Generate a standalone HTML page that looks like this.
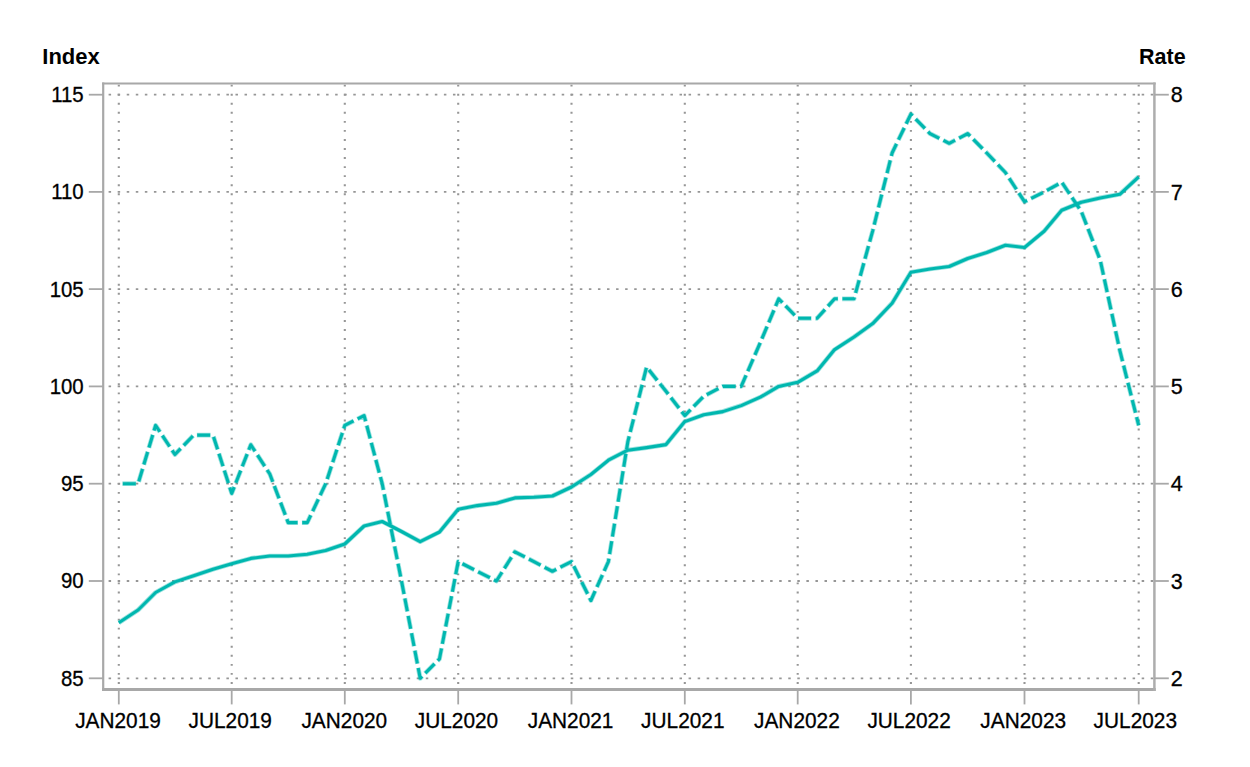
<!DOCTYPE html>
<html><head><meta charset="utf-8"><title>Index and Rate</title>
<style>
html,body{margin:0;padding:0;background:#fff;}
body{width:1250px;height:767px;overflow:hidden;font-family:"Liberation Sans",sans-serif;}
svg{display:block;}
svg text{font-family:"Liberation Sans",sans-serif;font-size:21.5px;fill:#000;stroke:#000;stroke-width:0.3px;}
.b{font-weight:bold;stroke-width:0 !important;}
</style></head><body>
<svg width="1250" height="767" viewBox="0 0 1250 767">
<rect width="1250" height="767" fill="#fff"/>
<g>
<g stroke="#969696" stroke-width="1.8" fill="none" stroke-dasharray="2.5 6.562">
<line x1="108.6" y1="94.7" x2="1153.2" y2="94.7"/>
<line x1="108.6" y1="191.9" x2="1153.2" y2="191.9"/>
<line x1="108.6" y1="289.1" x2="1153.2" y2="289.1"/>
<line x1="108.6" y1="386.4" x2="1153.2" y2="386.4"/>
<line x1="108.6" y1="483.7" x2="1153.2" y2="483.7"/>
<line x1="108.6" y1="581.0" x2="1153.2" y2="581.0"/>
<line x1="108.6" y1="678.3" x2="1153.2" y2="678.3"/>
</g>
<g stroke="#969696" stroke-width="2.1" fill="none" stroke-dasharray="1.9 7.15">
<line x1="118.8" y1="84.7" x2="118.8" y2="688.5"/>
<line x1="231.7" y1="84.7" x2="231.7" y2="688.5"/>
<line x1="344.8" y1="84.7" x2="344.8" y2="688.5"/>
<line x1="458.2" y1="84.7" x2="458.2" y2="688.5"/>
<line x1="571.5" y1="84.7" x2="571.5" y2="688.5"/>
<line x1="684.8" y1="84.7" x2="684.8" y2="688.5"/>
<line x1="797.7" y1="84.7" x2="797.7" y2="688.5"/>
<line x1="910.9" y1="84.7" x2="910.9" y2="688.5"/>
<line x1="1024.5" y1="84.7" x2="1024.5" y2="688.5"/>
<line x1="1138.7" y1="84.7" x2="1138.7" y2="688.5"/>
</g>
<polyline points="118.8,622.7 138.1,610.0 155.6,592.5 174.9,581.9 193.7,575.7 213.0,569.2 231.7,563.7 250.8,558.4 269.8,556.0 288.2,556.0 307.3,554.3 325.7,550.5 344.8,544.0 364.1,526.0 382.2,521.5 401.5,531.5 420.2,541.6 439.5,532.0 458.2,509.2 477.3,505.6 496.4,503.2 514.9,497.9 533.9,497.2 552.4,496.0 571.5,487.0 590.9,474.5 608.4,460.2 627.8,450.2 646.6,447.6 666.0,444.6 684.8,421.6 703.8,414.8 722.8,411.6 741.2,405.6 760.3,397.2 778.7,386.4 797.7,382.3 817.1,370.9 834.6,349.6 854.0,337.0 872.7,323.6 892.1,303.2 910.9,272.2 930.0,269.0 949.2,266.5 967.7,258.5 986.8,252.5 1005.4,245.2 1024.5,247.5 1044.1,231.2 1061.7,210.2 1081.3,202.2 1100.2,197.9 1119.8,194.3 1138.7,176.8" fill="none" stroke="#00B7AF" stroke-opacity="0.4" stroke-width="4.7" stroke-linejoin="round"/>
<polyline points="118.8,622.7 138.1,610.0 155.6,592.5 174.9,581.9 193.7,575.7 213.0,569.2 231.7,563.7 250.8,558.4 269.8,556.0 288.2,556.0 307.3,554.3 325.7,550.5 344.8,544.0 364.1,526.0 382.2,521.5 401.5,531.5 420.2,541.6 439.5,532.0 458.2,509.2 477.3,505.6 496.4,503.2 514.9,497.9 533.9,497.2 552.4,496.0 571.5,487.0 590.9,474.5 608.4,460.2 627.8,450.2 646.6,447.6 666.0,444.6 684.8,421.6 703.8,414.8 722.8,411.6 741.2,405.6 760.3,397.2 778.7,386.4 797.7,382.3 817.1,370.9 834.6,349.6 854.0,337.0 872.7,323.6 892.1,303.2 910.9,272.2 930.0,269.0 949.2,266.5 967.7,258.5 986.8,252.5 1005.4,245.2 1024.5,247.5 1044.1,231.2 1061.7,210.2 1081.3,202.2 1100.2,197.9 1119.8,194.3 1138.7,176.8" fill="none" stroke="#00B7AF" stroke-width="3.1" stroke-linejoin="round"/>
<polyline points="118.8,483.7 138.1,483.7 155.6,425.4 174.9,454.5 193.7,435.1 213.0,435.1 231.7,493.4 250.8,444.8 269.8,474.0 288.2,522.6 307.3,522.6 325.7,483.7 344.8,425.4 364.1,415.6 382.2,483.7 401.5,581.0 420.2,678.3 439.5,658.8 458.2,561.6 477.3,571.3 496.4,581.0 514.9,551.8 533.9,561.6 552.4,571.3 571.5,561.6 590.9,600.5 608.4,561.6 627.8,441.9 646.6,367.0 666.0,391.3 684.8,415.6 703.8,396.2 722.8,386.4 741.2,386.4 760.3,342.6 778.7,298.8 797.7,318.3 817.1,318.3 834.6,298.8 854.0,298.8 872.7,230.8 892.1,153.0 910.9,114.1 930.0,133.6 949.2,143.3 967.7,133.6 986.8,153.0 1005.4,172.5 1024.5,201.7 1044.1,191.9 1061.7,182.2 1081.3,211.4 1100.2,260.0 1119.8,350.4 1138.7,425.4" fill="none" stroke="#00B7AF" stroke-opacity="0.4" stroke-width="4.7" stroke-linejoin="round" stroke-dasharray="13.7 4.0" stroke-dashoffset="14.05"/>
<polyline points="118.8,483.7 138.1,483.7 155.6,425.4 174.9,454.5 193.7,435.1 213.0,435.1 231.7,493.4 250.8,444.8 269.8,474.0 288.2,522.6 307.3,522.6 325.7,483.7 344.8,425.4 364.1,415.6 382.2,483.7 401.5,581.0 420.2,678.3 439.5,658.8 458.2,561.6 477.3,571.3 496.4,581.0 514.9,551.8 533.9,561.6 552.4,571.3 571.5,561.6 590.9,600.5 608.4,561.6 627.8,441.9 646.6,367.0 666.0,391.3 684.8,415.6 703.8,396.2 722.8,386.4 741.2,386.4 760.3,342.6 778.7,298.8 797.7,318.3 817.1,318.3 834.6,298.8 854.0,298.8 872.7,230.8 892.1,153.0 910.9,114.1 930.0,133.6 949.2,143.3 967.7,133.6 986.8,153.0 1005.4,172.5 1024.5,201.7 1044.1,191.9 1061.7,182.2 1081.3,211.4 1100.2,260.0 1119.8,350.4 1138.7,425.4" fill="none" stroke="#00B7AF" stroke-width="3.1" stroke-linejoin="round" stroke-dasharray="13.0 4.7" stroke-dashoffset="13.7"/>
<g stroke="#a8a8a8" fill="none"><line x1="102.1" y1="83.4" x2="1155.7" y2="83.4" stroke-width="2"/><line x1="102.1" y1="689.5" x2="1155.7" y2="689.5" stroke-width="2.9"/><line x1="103.2" y1="82.4" x2="103.2" y2="690.9" stroke-width="2.2"/><line x1="1154.4" y1="82.4" x2="1154.4" y2="690.9" stroke-width="2.5" stroke="#adadad"/></g>
<g stroke="#a8a8a8" stroke-width="1.8">
<line x1="88.8" y1="94.7" x2="103.5" y2="94.7"/><line x1="1154.2" y1="94.7" x2="1168.8" y2="94.7"/>
<line x1="88.8" y1="191.9" x2="103.5" y2="191.9"/><line x1="1154.2" y1="191.9" x2="1168.8" y2="191.9"/>
<line x1="88.8" y1="289.1" x2="103.5" y2="289.1"/><line x1="1154.2" y1="289.1" x2="1168.8" y2="289.1"/>
<line x1="88.8" y1="386.4" x2="103.5" y2="386.4"/><line x1="1154.2" y1="386.4" x2="1168.8" y2="386.4"/>
<line x1="88.8" y1="483.7" x2="103.5" y2="483.7"/><line x1="1154.2" y1="483.7" x2="1168.8" y2="483.7"/>
<line x1="88.8" y1="581.0" x2="103.5" y2="581.0"/><line x1="1154.2" y1="581.0" x2="1168.8" y2="581.0"/>
<line x1="88.8" y1="678.3" x2="103.5" y2="678.3"/><line x1="1154.2" y1="678.3" x2="1168.8" y2="678.3"/>
<line x1="118.8" y1="689.5" x2="118.8" y2="704.4"/>
<line x1="231.7" y1="689.5" x2="231.7" y2="704.4"/>
<line x1="344.8" y1="689.5" x2="344.8" y2="704.4"/>
<line x1="458.2" y1="689.5" x2="458.2" y2="704.4"/>
<line x1="571.5" y1="689.5" x2="571.5" y2="704.4"/>
<line x1="684.8" y1="689.5" x2="684.8" y2="704.4"/>
<line x1="797.7" y1="689.5" x2="797.7" y2="704.4"/>
<line x1="910.9" y1="689.5" x2="910.9" y2="704.4"/>
<line x1="1024.5" y1="689.5" x2="1024.5" y2="704.4"/>
<line x1="1138.7" y1="689.5" x2="1138.7" y2="704.4"/>
</g>
<text class="b" x="42.3" y="63.6" style="font-size:22px">Index</text>
<text class="b" x="1185.6" y="63.6" text-anchor="end">Rate</text>
<text transform="translate(83.7 102.1) scale(0.95 1)" text-anchor="end">115</text><text x="1170.7" y="102.4">8</text>
<text transform="translate(83.7 199.3) scale(0.95 1)" text-anchor="end">110</text><text x="1170.7" y="199.6">7</text>
<text transform="translate(83.7 296.5) scale(0.95 1)" text-anchor="end">105</text><text x="1170.7" y="296.8">6</text>
<text transform="translate(83.7 393.8) scale(0.95 1)" text-anchor="end">100</text><text x="1170.7" y="394.1">5</text>
<text transform="translate(83.7 491.1) scale(0.95 1)" text-anchor="end">95</text><text x="1170.7" y="491.4">4</text>
<text transform="translate(83.7 588.4) scale(0.95 1)" text-anchor="end">90</text><text x="1170.7" y="588.8">3</text>
<text transform="translate(83.7 685.7) scale(0.95 1)" text-anchor="end">85</text><text x="1170.7" y="686.0">2</text>
<text transform="translate(118.0 728.4) scale(0.97 1)" text-anchor="middle">JAN2019</text>
<text transform="translate(230.2 728.4) scale(0.97 1)" text-anchor="middle">JUL2019</text>
<text transform="translate(344.3 728.4) scale(0.97 1)" text-anchor="middle">JAN2020</text>
<text transform="translate(456.5 728.4) scale(0.97 1)" text-anchor="middle">JUL2020</text>
<text transform="translate(570.6 728.4) scale(0.97 1)" text-anchor="middle">JAN2021</text>
<text transform="translate(682.8 728.4) scale(0.97 1)" text-anchor="middle">JUL2021</text>
<text transform="translate(796.9 728.4) scale(0.97 1)" text-anchor="middle">JAN2022</text>
<text transform="translate(909.1 728.4) scale(0.97 1)" text-anchor="middle">JUL2022</text>
<text transform="translate(1023.2 728.4) scale(0.97 1)" text-anchor="middle">JAN2023</text>
<text transform="translate(1135.3 728.4) scale(0.97 1)" text-anchor="middle">JUL2023</text>
</g>
</svg>
</body></html>
